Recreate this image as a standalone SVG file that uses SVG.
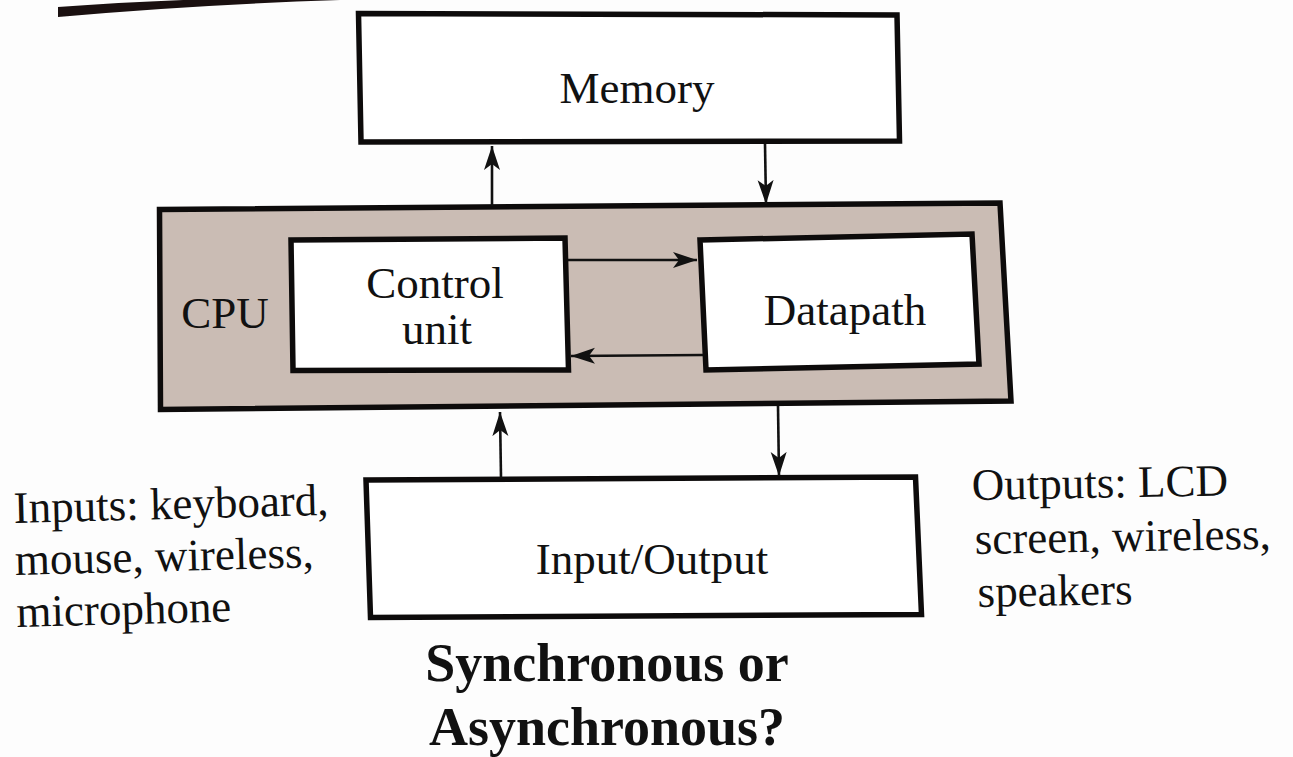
<svg xmlns="http://www.w3.org/2000/svg" width="1293" height="757" viewBox="0 0 1293 757">
  <style>
    .box { fill: #ffffff; stroke: #0d0b0b; stroke-width: 5.5; stroke-linejoin: miter; }
    .cpu { fill: #cabcb4; stroke: #0d0b0b; stroke-width: 5.5; stroke-linejoin: miter; }
    .lbl { font-family: "Liberation Serif", "Times New Roman", serif; font-size: 45px; fill: #111; }
    .q { font-family: "Liberation Serif", "Times New Roman", serif; font-size: 54px; font-weight: bold; fill: #111; text-anchor: middle; }
    .wire { stroke: #111; stroke-width: 2.6; fill: none; marker-end: url(#head); }
  </style>
  <defs>
    <marker id="head" markerUnits="userSpaceOnUse" markerWidth="26" markerHeight="18" refX="24" refY="8" orient="auto">
      <path d="M0,0 L24,8 L0,16 L6,8 Z" fill="#111"/>
    </marker>
  </defs>

  <rect width="1293" height="757" fill="#fdfdfd"/>

  <!-- page header rule -->
  <path d="M58,7 Q180,-2 340,-4 L340,0 Q190,5 58,17 Z" fill="#1a1010"/>

  <g id="memory">
    <polygon class="box" points="358.5,13.5 897,15 899.5,141 361,142"/>
    <text class="lbl" x="637" y="103" text-anchor="middle">Memory</text>
  </g>

  <g id="cpu">
    <polygon class="cpu" points="159.5,209.5 1000,203 1011,401 160.5,409.5"/>
    <text class="lbl" x="225" y="328" text-anchor="middle">CPU</text>
  </g>

  <g id="control-unit">
    <polygon class="box" points="291,240 565,238 568.5,370 293,370.5"/>
    <text class="lbl" x="435" y="298" text-anchor="middle" font-size="43">Control</text>
    <text class="lbl" x="437" y="344" text-anchor="middle" font-size="43">unit</text>
  </g>

  <g id="datapath">
    <polygon class="box" points="700,240 972,234 979,364 706,370"/>
    <text class="lbl" x="845" y="325" text-anchor="middle">Datapath</text>
  </g>

  <g id="io">
    <polygon class="box" points="366,480 915.5,477 921.5,614.5 370.5,617.5"/>
    <text class="lbl" x="652" y="574" text-anchor="middle">Input/Output</text>
  </g>

  <g id="connectors">
    <line class="wire" x1="492" y1="206" x2="492" y2="146"/>
    <line class="wire" x1="765" y1="144" x2="766" y2="204"/>
    <line class="wire" x1="568" y1="260" x2="697" y2="260"/>
    <line class="wire" x1="703" y1="355" x2="571" y2="356"/>
    <line class="wire" x1="501" y1="478" x2="500" y2="412"/>
    <line class="wire" x1="778" y1="406" x2="779" y2="476"/>
  </g>

  <g id="inputs-note" transform="rotate(-1.5 14 523)">
    <text class="lbl" x="14" y="523">Inputs: keyboard,</text>
    <text class="lbl" x="14" y="575">mouse, wireless,</text>
    <text class="lbl" x="14" y="627">microphone</text>
  </g>

  <g id="outputs-note" transform="rotate(-1 972 500)">
    <text class="lbl" x="972" y="500">Outputs: LCD</text>
    <text class="lbl" x="974" y="554">screen, wireless,</text>
    <text class="lbl" x="976" y="607">speakers</text>
  </g>

  <g id="question">
    <text class="q" x="607" y="681">Synchronous or</text>
    <text class="q" x="607" y="745">Asynchronous?</text>
  </g>
</svg>
